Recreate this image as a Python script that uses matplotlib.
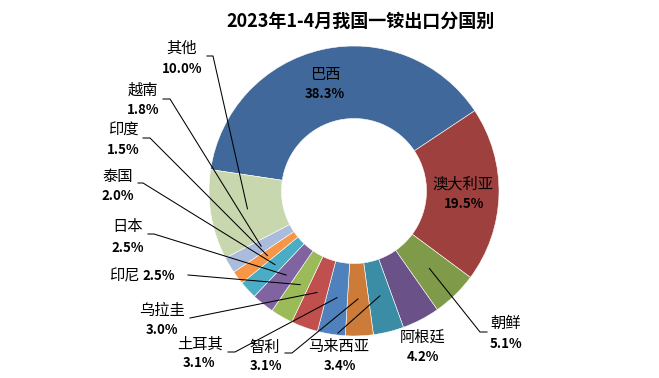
import numpy as np
import matplotlib
matplotlib.use("Agg")
import matplotlib.pyplot as plt

plt.rcParams['font.family'] = ['Noto Sans CJK SC', 'DejaVu Sans']

title = "2023年1-4月我国一铵出口分国别"
countries = ["巴西", "澳大利亚", "朝鲜", "阿根廷", "马来西亚", "智利", "土耳其",
             "乌拉圭", "印尼", "日本", "泰国", "印度", "越南", "其他"]
shares = [38.3, 19.5, 5.1, 4.2, 3.4, 3.1, 3.1, 3.0, 2.5, 2.5, 2.0, 1.5, 1.8, 10.0]
colors = ["#41689A", "#9E413E", "#7F9B49", "#6A5187", "#3B8DA5", "#CD7B38", "#4F81BD",
          "#C0504D", "#9BBB59", "#8064A2", "#4BACC6", "#F79646", "#AABBDB", "#C9D7AF"]

# layout (pixel positions in the 659x378 canvas)
W, H = 659, 378
CX, CY, R = 354, 191, 145
layout = {
    "巴西":   dict(name=(325, 74),  pct=(325, 94),  path=None),
    "澳大利亚": dict(name=(463, 184), pct=(464, 204), path=None),
    "朝鲜":   dict(name=(506, 323), pct=(506, 344), path=[(487, 332), (480, 332)]),
    "阿根廷":  dict(name=(423, 337), pct=(423, 357), path=None),
    "马来西亚": dict(name=(339, 346), pct=(340, 366), path=[(338, 333)]),
    "智利":   dict(name=(265, 347), pct=(266, 366), path=[(285, 353), (292, 353)]),
    "土耳其":  dict(name=(200, 344), pct=(199, 363), path=[(228, 352), (235, 352)]),
    "乌拉圭":  dict(name=(162, 310), pct=(162, 330), path=[(190, 318)]),
    "印尼":   dict(name=(124, 276), pct=(159, 276), path=[(188, 275)]),
    "日本":   dict(name=(128, 227), pct=(128, 248), path=[(148, 234), (154, 234)]),
    "泰国":   dict(name=(118, 177), pct=(118, 196), path=[(138, 183), (143, 183)]),
    "印度":   dict(name=(123, 130), pct=(123, 150), path=[(143, 138), (150, 138)]),
    "越南":   dict(name=(143, 90),  pct=(143, 110), path=[(163, 99), (170, 99)]),
    "其他":   dict(name=(182, 48),  pct=(182, 69),  path=[(207, 56), (213, 56)]),
}


def px(x, y):
    return ((x - CX) / R, (CY - y) / R)


fig = plt.figure(figsize=(W / 100, H / 100), dpi=100)
ax = fig.add_axes([0, 0, 1, 1])
wedges, _ = ax.pie(shares, colors=colors, startangle=171.5, counterclock=False,
                   radius=1.0,
                   wedgeprops=dict(width=0.5, edgecolor="white", linewidth=0.4))
ax.set_xlim(-CX / R, (W - CX) / R)
ax.set_ylim((CY - H) / R, CY / R)
ax.set_aspect("equal")
ax.axis("off")

for name, val, wdg in zip(countries, shares, wedges):
    lay = layout[name]
    ax.text(*px(*lay["name"]), name, ha="center", va="center", fontsize=11,
            fontweight="medium", color="black")
    ax.text(*px(*lay["pct"]), f"{val:.1f}%", ha="center", va="center",
            fontsize=9.5, fontweight="bold", color="black")
    if lay["path"]:
        mid = np.deg2rad((wdg.theta1 + wdg.theta2) / 2)
        anchor = (0.745 * np.cos(mid), 0.745 * np.sin(mid))
        pts = [px(*p) for p in lay["path"]] + [anchor]
        xs, ys = zip(*pts)
        ax.plot(xs, ys, color="black", lw=0.75)

ax.text(*px(361, 21), title, ha="center", va="center", fontsize=13,
        fontweight="bold", color="black")

fig.savefig("out.png", dpi=100)
